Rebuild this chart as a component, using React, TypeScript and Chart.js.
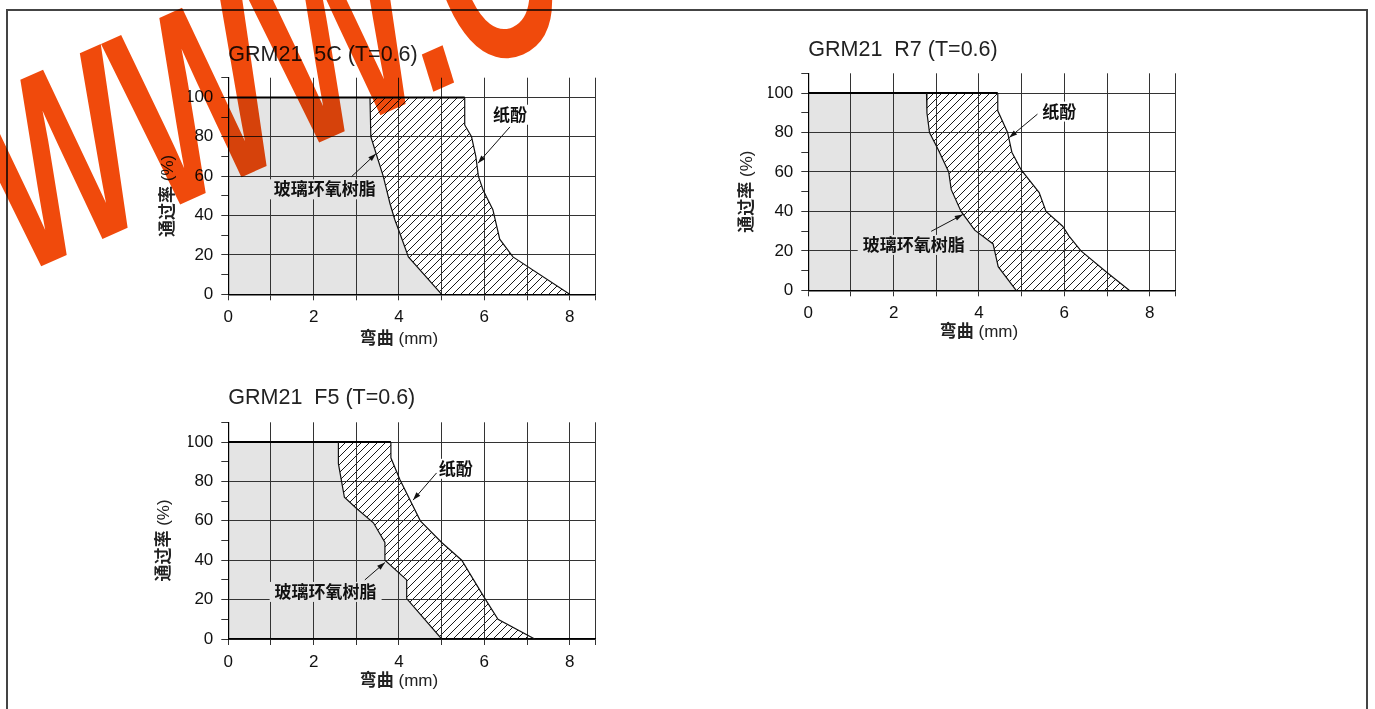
import React, { useEffect, useRef } from "react";
import { Chart, registerables } from "chart.js";

Chart.register(...registerables);

const LATIN = "'Liberation Sans', Arial, sans-serif";
const CJK = "'Noto Sans CJK SC', 'Liberation Sans', sans-serif";

// ---- axes ----
const xTickValues = [0, 1, 2, 3, 4, 5, 6, 7, 8, 8.6];
const xLabelValues = [0, 2, 4, 6, 8];
const yTickValues = [0, 10, 20, 30, 40, 50, 60, 70, 80, 90, 100, 110];
const yLabelValues = [0, 20, 40, 60, 80, 100];
const xTitleMain = "弯曲";
const xTitleUnit = " (mm)";
const yTitleMain = "通过率";
const yTitleUnit = " (%)";
const glassLabel = "玻璃环氧树脂";
const paperLabel = "纸酚";
const fullRate = 100;
const watermarkText = "WWW.C";

// ---- GRM21 5C ----
const title5C = "GRM21  5C (T=0.6)";
const glass5CX = [3.32, 3.34, 3.47, 3.63, 3.79, 3.9, 4.02, 4.22, 5.0];
const glass5CY = [100, 80, 71, 60, 46, 38, 31, 19, 0];
const paper5CX = [5.54, 5.54, 5.7, 5.8, 5.86, 5.97, 6.2, 6.36, 6.67, 8.0];
const paper5CY = [100, 86, 80, 70, 60, 53, 43, 28, 19, 0];
const note5CPaper = [6.6, 91.2];
const arrow5CPaper = [6.6, 85, 5.85, 66.6];
const note5CGlass = [2.26, 53.3];
const arrow5CGlass = [2.89, 59.8, 3.46, 71.4];

// ---- GRM21 R7 ----
const titleR7 = "GRM21  R7 (T=0.6)";
const glassR7X = [2.77, 2.78, 2.84, 3.04, 3.29, 3.35, 3.58, 3.9, 4.33, 4.45, 4.87];
const glassR7Y = [100, 90, 80, 71.5, 60, 51, 40, 30.5, 23.5, 12, 0];
const paperR7X = [4.44, 4.44, 4.67, 4.77, 4.99, 5.41, 5.57, 5.96, 6.11, 6.39, 6.97, 7.52];
const paperR7Y = [100, 91, 80, 70, 61, 49.5, 40, 32.5, 27.5, 20, 9.5, 0];
const noteR7Paper = [5.88, 90.6];
const arrowR7Paper = [5.37, 89.3, 4.71, 77.4];
const noteR7Glass = [2.47, 23];
const arrowR7Glass = [2.88, 29.9, 3.62, 38.4];

// ---- GRM21 F5 ----
const titleF5 = "GRM21  F5 (T=0.6)";
const glassF5X = [2.58, 2.58, 2.72, 3.0, 3.4, 3.67, 3.67, 4.18, 4.18, 5.0];
const glassF5Y = [100, 89, 72, 66.4, 59, 49, 40, 30, 20.5, 0];
const paperF5X = [3.81, 3.81, 4.02, 4.5, 5.0, 5.47, 6.0, 6.32, 7.18];
const paperF5Y = [100, 92, 81, 60, 49, 40, 21, 10, 0];
const noteF5Paper = [5.33, 86.4];
const arrowF5Paper = [4.88, 84.3, 4.33, 70.5];
const noteF5Glass = [2.28, 23.9];
const arrowF5Glass = [3.2, 30, 3.67, 38.8];

// ---- layout (page pixel boxes of each plot area) ----
const specs = [
  {
    key: "5C", title: title5C, glassX: glass5CX, glassY: glass5CY, paperX: paper5CX, paperY: paper5CY,
    paperNote: note5CPaper, paperArrow: arrow5CPaper, glassNote: note5CGlass, glassArrow: arrow5CGlass,
    area: [228.3, 77.7, 595.3, 294.3], titleGap: 17, xTitleGap: 44, yTitleGap: 61,
  },
  {
    key: "R7", title: titleR7, glassX: glassR7X, glassY: glassR7Y, paperX: paperR7X, paperY: paperR7Y,
    paperNote: noteR7Paper, paperArrow: arrowR7Paper, glassNote: noteR7Glass, glassArrow: arrowR7Glass,
    area: [808.3, 73.3, 1175.3, 290.3], titleGap: 17, xTitleGap: 41, yTitleGap: 62,
  },
  {
    key: "F5", title: titleF5, glassX: glassF5X, glassY: glassF5Y, paperX: paperF5X, paperY: paperF5Y,
    paperNote: noteF5Paper, paperArrow: arrowF5Paper, glassNote: noteF5Glass, glassArrow: arrowF5Glass,
    area: [228.3, 422.3, 595.3, 639], titleGap: 18.5, xTitleGap: 41, yTitleGap: 65,
  },
];

const Y_AXIS_W = 40;
const X_AXIS_H = 40;
const M_LEFT = 90;
const M_TOP = 60;
const M_RIGHT = 15;
const M_BOTTOM = 65;

function makeHatch() {
  const c = document.createElement("canvas");
  c.width = 8;
  c.height = 8;
  const g = c.getContext("2d")!;
  g.strokeStyle = "#1a1a1a";
  g.lineWidth = 1;
  g.beginPath();
  g.moveTo(0, 8);
  g.lineTo(8, 0);
  g.moveTo(-1, 1);
  g.lineTo(1, -1);
  g.moveTo(7, 9);
  g.lineTo(9, 7);
  g.stroke();
  return g.createPattern(c, "repeat");
}

function drawMixed(ctx: CanvasRenderingContext2D, parts: [string, string][], cx: number, baseY: number) {
  let total = 0;
  const widths = parts.map(([t, f]) => {
    ctx.font = f;
    const w = ctx.measureText(t).width;
    total += w;
    return w;
  });
  let x = cx - total / 2;
  ctx.textAlign = "left";
  ctx.textBaseline = "alphabetic";
  parts.forEach(([t, f], i) => {
    ctx.font = f;
    ctx.fillText(t, x, baseY);
    x += widths[i];
  });
}

function drawArrow(ctx: CanvasRenderingContext2D, sx: number, sy: number, tx: number, ty: number) {
  ctx.beginPath();
  ctx.moveTo(sx, sy);
  ctx.lineTo(tx, ty);
  ctx.stroke();
  const a = Math.atan2(ty - sy, tx - sx);
  const L = 8;
  const W = 2.6;
  ctx.beginPath();
  ctx.moveTo(tx, ty);
  ctx.lineTo(tx - L * Math.cos(a) + W * Math.sin(a), ty - L * Math.sin(a) - W * Math.cos(a));
  ctx.lineTo(tx - L * Math.cos(a) - W * Math.sin(a), ty - L * Math.sin(a) + W * Math.cos(a));
  ctx.closePath();
  ctx.fill();
}

function makeDecor(spec: any) {
  return {
    id: "decor",
    afterDatasetsDraw(chart: any) {
      const { ctx, chartArea } = chart;
      const xs = chart.scales.x;
      const ys = chart.scales.y;
      ctx.save();
      ctx.fillStyle = "#222";
      // title
      ctx.font = `21.5px ${LATIN}`;
      ctx.textAlign = "left";
      ctx.textBaseline = "alphabetic";
      ctx.fillText(spec.title, chartArea.left, chartArea.top - spec.titleGap);

      // axis titles
      const boldCJK = `bold 17px ${CJK}`;
      const unitFont = `17px ${LATIN}`;
      drawMixed(ctx, [[xTitleMain, boldCJK], [xTitleUnit, unitFont]], xs.getPixelForValue(4), chartArea.bottom + spec.xTitleGap + 6);
      ctx.save();
      ctx.translate(chartArea.left - spec.yTitleGap, ys.getPixelForValue(50));
      ctx.rotate(-Math.PI / 2);
      drawMixed(ctx, [[yTitleMain, boldCJK], [yTitleUnit, unitFont]], 0, 6);
      ctx.restore();

      // notes
      const note = (text: string, pos: number[], bg: string) => {
        const px = xs.getPixelForValue(pos[0]);
        const py = ys.getPixelForValue(pos[1]);
        ctx.font = `bold 17px ${CJK}`;
        const w = ctx.measureText(text).width;
        ctx.fillStyle = bg;
        ctx.fillRect(px - w / 2 - 5, py - 10, w + 10, 20);
        ctx.fillStyle = "#111";
        ctx.textAlign = "center";
        ctx.textBaseline = "alphabetic";
        ctx.fillText(text, px, py + 6);
      };
      note(paperLabel, spec.paperNote, "#ffffff");
      note(glassLabel, spec.glassNote, "#e4e4e4");

      ctx.strokeStyle = "#111";
      ctx.fillStyle = "#111";
      ctx.lineWidth = 1;
      const pa = spec.paperArrow;
      drawArrow(ctx, xs.getPixelForValue(pa[0]), ys.getPixelForValue(pa[1]), xs.getPixelForValue(pa[2]), ys.getPixelForValue(pa[3]));
      const ga = spec.glassArrow;
      drawArrow(ctx, xs.getPixelForValue(ga[0]), ys.getPixelForValue(ga[1]), xs.getPixelForValue(ga[2]), ys.getPixelForValue(ga[3]));
      ctx.restore();
    },
  };
}

function PassRateChart({ spec }: { spec: any }) {
  const ref = useRef<HTMLCanvasElement | null>(null);
  const [L, T, R, B] = spec.area;
  const cl = Math.floor(L) - M_LEFT;
  const ct = Math.floor(T) - M_TOP;
  const cw = Math.ceil(R) + M_RIGHT - cl;
  const ch = Math.ceil(B) + M_BOTTOM - ct;

  useEffect(() => {
    const canvas = ref.current!;
    const glass = spec.glassX.map((x: number, i: number) => ({ x, y: spec.glassY[i] }));
    const paper = spec.paperX.map((x: number, i: number) => ({ x, y: spec.paperY[i] }));
    const grayArea = [{ x: 0, y: 0 }, { x: 0, y: fullRate }, ...glass];
    const hatchArea = [...glass, ...paper.slice().reverse()];
    const topEdge = [{ x: 0, y: fullRate }, { x: spec.paperX[0], y: fullRate }];
    const clear = "rgba(0,0,0,0)";
    const tickFont = { family: LATIN, size: 17 };

    const chart = new Chart(canvas, {
      type: "line",
      data: {
        datasets: [
          { data: grayArea, fill: "shape", backgroundColor: "#e4e4e4", borderColor: clear, borderWidth: 0, pointRadius: 0, tension: 0 },
          { data: hatchArea, fill: "shape", backgroundColor: makeHatch(), borderColor: clear, borderWidth: 0, pointRadius: 0, tension: 0 },
          { data: glass, fill: false, borderColor: "#111", borderWidth: 1.2, pointRadius: 0, tension: 0 },
          { data: paper, fill: false, borderColor: "#111", borderWidth: 1.2, pointRadius: 0, tension: 0 },
          { data: topEdge, fill: false, borderColor: "#000", borderWidth: 2, pointRadius: 0, tension: 0 },
        ],
      } as any,
      options: {
        responsive: false,
        animation: false,
        devicePixelRatio: 1,
        events: [],
        layout: {
          padding: {
            left: L - cl - Y_AXIS_W,
            top: T - ct,
            right: cl + cw - R,
            bottom: ct + ch - B - X_AXIS_H,
          },
        },
        plugins: {
          legend: { display: false },
          tooltip: { enabled: false },
          title: { display: false },
          filler: { drawTime: "beforeDraw", propagate: false },
        },
        scales: {
          x: {
            type: "linear",
            min: 0,
            max: 8.6,
            afterBuildTicks: (s: any) => {
              s.ticks = xTickValues.map((v) => ({ value: v }));
            },
            afterFit: (s: any) => {
              s.height = X_AXIS_H;
            },
            grid: { color: "#333", lineWidth: 1, tickLength: 6, tickColor: "#333" },
            border: { color: "#000", width: 1.5 },
            ticks: {
              autoSkip: false,
              maxRotation: 0,
              minRotation: 0,
              padding: 7,
              color: "#111",
              font: tickFont,
              callback: (v: any) => (xLabelValues.includes(v) ? String(v) : ""),
            },
          },
          y: {
            type: "linear",
            min: 0,
            max: 110,
            afterBuildTicks: (s: any) => {
              s.ticks = yTickValues.map((v) => ({ value: v }));
            },
            afterFit: (s: any) => {
              s.width = Y_AXIS_W;
            },
            grid: {
              color: (c: any) => (c.tick && c.tick.value % 20 === 0 ? "#333" : clear),
              tickColor: "#333",
              lineWidth: 1,
              tickLength: 7,
            },
            border: { color: "#000", width: 1.2 },
            ticks: {
              autoSkip: false,
              padding: 8,
              color: "#111",
              font: tickFont,
              callback: (v: any) => (yLabelValues.includes(v) ? String(v) : ""),
            },
          },
        },
      } as any,
      plugins: [makeDecor(spec)],
    });
    return () => chart.destroy();
  }, []);

  return (
    <canvas
      ref={ref}
      width={cw}
      height={ch}
      style={{ position: "absolute", left: cl, top: ct, width: cw, height: ch }}
    />
  );
}

export default function App() {
  return (
    <div style={{ position: "absolute", left: 0, top: 0, width: 1375, height: 709, overflow: "hidden", background: "#fff" }}>
      <div
        style={{
          position: "absolute",
          left: 6,
          top: 9,
          width: 1358,
          height: 740,
          border: "2px solid #444",
        }}
      />
      {specs.map((s) => (
        <PassRateChart key={s.key} spec={s} />
      ))}
      <svg
        width={1375}
        height={709}
        style={{ position: "absolute", left: 0, top: 0, pointerEvents: "none", mixBlendMode: "multiply" }}
      >
        <text
          x={0}
          y={0}
          transform="translate(24 274) rotate(-24) scale(0.62 1)"
          fontFamily="Liberation Sans, Arial, sans-serif"
          fontWeight="bold"
          fontStyle="italic"
          fontSize={260}
          fill="#f04a0c"
        >
          {watermarkText}
        </text>
      </svg>
    </div>
  );
}
